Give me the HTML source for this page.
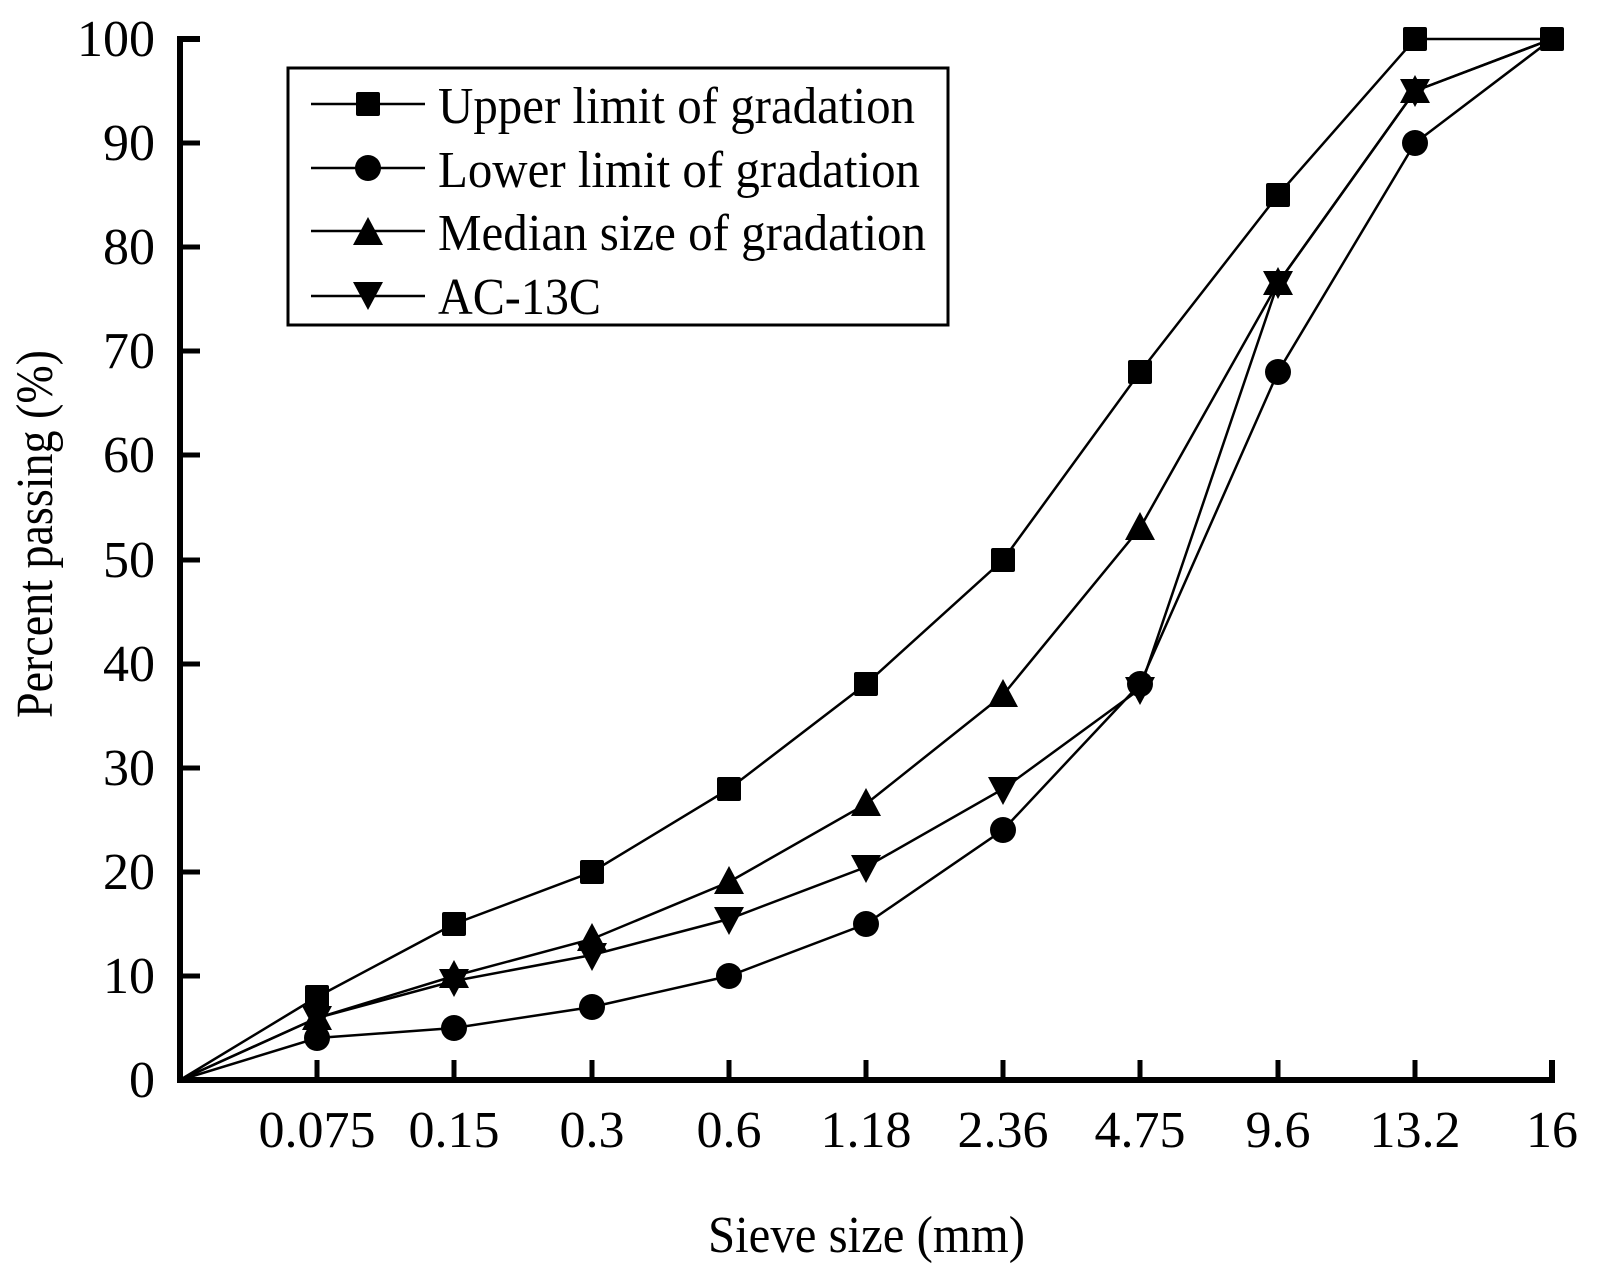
<!DOCTYPE html>
<html><head><meta charset="utf-8"><style>body{margin:0;background:#fff}svg{display:block}text{font-family:"Liberation Serif",serif;fill:#000}</style></head>
<body>
<svg width="1597" height="1277" viewBox="0 0 1597 1277" xmlns="http://www.w3.org/2000/svg">
<defs>
<rect id="sq" x="-12" y="-12" width="24" height="24" rx="2" fill="#000"/>
<circle id="ci" r="13" fill="#000"/>
<polygon id="tu" points="0,-16 15,12 -15,12" fill="#000"/>
<polygon id="td" points="0,16 15,-12 -15,-12" fill="#000"/>
</defs>
<g stroke="#000" stroke-width="6" fill="none">
<polyline points="200,39 180,39 180,1080 1552,1080 1552,1060"/>
</g>
<g stroke="#000" stroke-width="5">
<line x1="180" y1="143" x2="200" y2="143"/><line x1="180" y1="247" x2="200" y2="247"/><line x1="180" y1="351" x2="200" y2="351"/><line x1="180" y1="455" x2="200" y2="455"/><line x1="180" y1="560" x2="200" y2="560"/><line x1="180" y1="664" x2="200" y2="664"/><line x1="180" y1="768" x2="200" y2="768"/><line x1="180" y1="872" x2="200" y2="872"/><line x1="180" y1="976" x2="200" y2="976"/>
<line x1="317" y1="1080" x2="317" y2="1060"/><line x1="454" y1="1080" x2="454" y2="1060"/><line x1="592" y1="1080" x2="592" y2="1060"/><line x1="729" y1="1080" x2="729" y2="1060"/><line x1="866" y1="1080" x2="866" y2="1060"/><line x1="1003" y1="1080" x2="1003" y2="1060"/><line x1="1140" y1="1080" x2="1140" y2="1060"/><line x1="1278" y1="1080" x2="1278" y2="1060"/><line x1="1415" y1="1080" x2="1415" y2="1060"/>
</g>
<g font-size="52" text-anchor="end">
<text x="155" y="56">100</text><text x="155" y="160">90</text><text x="155" y="264">80</text><text x="155" y="368">70</text><text x="155" y="472">60</text><text x="155" y="577">50</text><text x="155" y="681">40</text><text x="155" y="785">30</text><text x="155" y="889">20</text><text x="155" y="993">10</text><text x="155" y="1097">0</text>
</g>
<g font-size="52" text-anchor="middle">
<text x="317" y="1147">0.075</text><text x="454" y="1147">0.15</text><text x="592" y="1147">0.3</text><text x="729" y="1147">0.6</text><text x="866" y="1147">1.18</text><text x="1003" y="1147">2.36</text><text x="1140" y="1147">4.75</text><text x="1278" y="1147">9.6</text><text x="1415" y="1147">13.2</text><text x="1552" y="1147">16</text>
</g>
<text x="708" y="1252" font-size="52" textLength="317" lengthAdjust="spacingAndGlyphs">Sieve size (mm)</text>
<text transform="translate(52,718) rotate(-90)" font-size="52" textLength="368" lengthAdjust="spacingAndGlyphs">Percent passing (%)</text>
<g stroke="#000" stroke-width="2.5" fill="none">
<polyline points="180,1080 317,997 454,924 592,872 729,789 866,684 1003,560 1140,372 1278,195 1415,39 1552,39"/>
<polyline points="180,1080 317,1038 454,1028 592,1007 729,976 866,924 1003,830 1140,684 1278,372 1415,143 1552,39"/>
<polyline points="180,1080 317,1018 454,976 592,939 729,882 866,804 1003,695 1140,528 1278,283 1415,91 1552,39"/>
<polyline points="180,1080 317,1018 454,981 592,955 729,919 866,867 1003,789 1140,689 1278,283 1415,91 1552,39"/>
</g>
<g>
<use href="#sq" x="317" y="997"/><use href="#sq" x="454" y="924"/><use href="#sq" x="592" y="872"/><use href="#sq" x="729" y="789"/><use href="#sq" x="866" y="684"/><use href="#sq" x="1003" y="560"/><use href="#sq" x="1140" y="372"/><use href="#sq" x="1278" y="195"/><use href="#sq" x="1415" y="39"/><use href="#sq" x="1552" y="39"/>
<use href="#ci" x="317" y="1038"/><use href="#ci" x="454" y="1028"/><use href="#ci" x="592" y="1007"/><use href="#ci" x="729" y="976"/><use href="#ci" x="866" y="924"/><use href="#ci" x="1003" y="830"/><use href="#ci" x="1140" y="684"/><use href="#ci" x="1278" y="372"/><use href="#ci" x="1415" y="143"/>
<use href="#tu" x="317" y="1018"/><use href="#tu" x="454" y="976"/><use href="#tu" x="592" y="939"/><use href="#tu" x="729" y="882"/><use href="#tu" x="866" y="804"/><use href="#tu" x="1003" y="695"/><use href="#tu" x="1140" y="528"/><use href="#tu" x="1278" y="283"/><use href="#tu" x="1415" y="91"/>
<use href="#td" x="317" y="1018"/><use href="#td" x="454" y="981"/><use href="#td" x="592" y="955"/><use href="#td" x="729" y="919"/><use href="#td" x="866" y="867"/><use href="#td" x="1003" y="789"/><use href="#td" x="1140" y="689"/><use href="#td" x="1278" y="283"/><use href="#td" x="1415" y="91"/>
</g>
<rect x="288" y="68" width="660" height="257" fill="#fff" stroke="#000" stroke-width="3"/>
<g stroke="#000" stroke-width="2.5">
<line x1="311" y1="104" x2="425" y2="104"/><line x1="311" y1="168" x2="425" y2="168"/><line x1="311" y1="231" x2="425" y2="231"/><line x1="311" y1="296" x2="425" y2="296"/>
</g>
<use href="#sq" x="368" y="104"/><use href="#ci" x="368" y="168"/><use href="#tu" x="368" y="233"/><use href="#td" x="368" y="294"/>
<g font-size="52">
<text x="438" y="123" textLength="477" lengthAdjust="spacingAndGlyphs">Upper limit of gradation</text>
<text x="438" y="187" textLength="482" lengthAdjust="spacingAndGlyphs">Lower limit of gradation</text>
<text x="438" y="250" textLength="488" lengthAdjust="spacingAndGlyphs">Median size of gradation</text>
<text x="438" y="314" textLength="163" lengthAdjust="spacingAndGlyphs">AC-13C</text>
</g>
</svg>
</body></html>
